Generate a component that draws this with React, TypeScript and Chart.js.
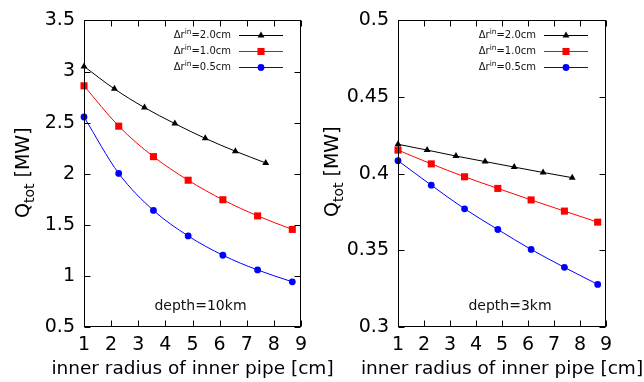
import React, { useEffect, useRef } from "react";
import { Chart, registerables } from "chart.js";
import { drawPoint } from "chart.js/helpers";

Chart.register(...registerables);

// ---------- data ----------
const xCoarse = [1, 2.12, 3.23, 4.35, 5.47, 6.58, 7.7]; // Δr=2.0cm
const xFine = [1, 2.28, 3.56, 4.84, 6.12, 7.4, 8.68]; // Δr=1.0cm, 0.5cm

const deep20 = [3.05, 2.83, 2.647, 2.49, 2.346, 2.22, 2.105];
const deep10 = [2.86, 2.465, 2.167, 1.936, 1.745, 1.587, 1.455];
const deep05 = [2.555, 2.003, 1.641, 1.391, 1.202, 1.058, 0.942];

const shallow20 = [0.4192, 0.4154, 0.4115, 0.4079, 0.4043, 0.4008, 0.3974];
const shallow10 = [0.4154, 0.4064, 0.398, 0.3904, 0.3829, 0.3756, 0.3684];
const shallow05 = [0.4085, 0.3925, 0.3771, 0.3636, 0.3506, 0.3389, 0.3278];

const xTicks = [1, 2, 3, 4, 5, 6, 7, 8, 9];
const yTicksDeep = [0.5, 1, 1.5, 2, 2.5, 3, 3.5];
const yTicksShallow = [0.3, 0.35, 0.4, 0.45, 0.5];

const seriesLabels = ["=2.0cm", "=1.0cm", "=0.5cm"];
const seriesColors = ["#000000", "#ff0000", "#0000ff"];
const seriesStyles = ["triangle", "rect", "circle"];
const seriesRadii = [4, 5, 3.4];

const xTitle = "inner radius of inner pipe [cm]";
const depthDeep = "depth=10km";
const depthShallow = "depth=3km";

const FONT = "DejaVu Sans";

type PanelSpec = {
  ys: number[][];
  yTicks: number[];
  depth: string;
  yAxisWidth: number;
  padRight: number;
  yTitleX: number;
  yTitleStart: number;
};

function drawMixed(
  ctx: CanvasRenderingContext2D,
  parts: { t: string; size: number; dy: number }[],
  x: number,
  y: number
) {
  let cx = x;
  for (const p of parts) {
    ctx.font = `${p.size}px "${FONT}"`;
    ctx.fillText(p.t, cx, y + p.dy);
    cx += ctx.measureText(p.t).width;
  }
}
function measureMixed(ctx: CanvasRenderingContext2D, parts: { t: string; size: number; dy: number }[]) {
  let w = 0;
  for (const p of parts) {
    ctx.font = `${p.size}px "${FONT}"`;
    w += ctx.measureText(p.t).width;
  }
  return w;
}

function makeConfig(spec: PanelSpec): any {
  const xsList = [xCoarse, xFine, xFine];
  const datasets = spec.ys.map((ys, i) => ({
    label: seriesLabels[i],
    data: ys.map((y, k) => ({ x: xsList[i][k], y })),
    borderColor: seriesColors[i],
    backgroundColor: seriesColors[i],
    borderWidth: 1,
    pointStyle: seriesStyles[i],
    pointRadius: seriesRadii[i],
    pointBorderWidth: 0,
    pointBackgroundColor: seriesColors[i],
    pointBorderColor: seriesColors[i],
    cubicInterpolationMode: "monotone",
    clip: false,
    showLine: true,
  }));

  const decor = {
    id: "decor",
    afterDatasetsDraw(chart: any) {
      const ctx: CanvasRenderingContext2D = chart.ctx;
      const { left, right, top, bottom } = chart.chartArea;
      const xs = chart.scales.x;
      const ysc = chart.scales.y;
      ctx.save();
      ctx.strokeStyle = "#000";
      ctx.lineWidth = 1;
      const L = Math.round(left) + 0.5;
      const R = Math.round(right) - 0.5;
      const T = Math.round(top) + 0.5;
      const B = Math.round(bottom) - 0.5;
      ctx.strokeRect(L, T, R - L, B - T);
      const tl = 6;
      ctx.beginPath();
      for (const v of xTicks) {
        const px = Math.round(xs.getPixelForValue(v)) + 0.5;
        ctx.moveTo(px, B);
        ctx.lineTo(px, B - tl);
        ctx.moveTo(px, T);
        ctx.lineTo(px, T + tl);
      }
      for (const v of spec.yTicks) {
        const py = Math.round(ysc.getPixelForValue(v)) + 0.5;
        ctx.moveTo(L, py);
        ctx.lineTo(L + tl, py);
        ctx.moveTo(R, py);
        ctx.lineTo(R - tl, py);
      }
      ctx.stroke();

      // legend
      ctx.fillStyle = "#000";
      ctx.textBaseline = "middle";
      ctx.textAlign = "left";
      for (let i = 0; i < 3; i++) {
        const y = top + 15 + i * 15.7;
        const parts = [
          { t: "Δr", size: 10, dy: 0 },
          { t: "in", size: 7.5, dy: -3.5 },
          { t: seriesLabels[i], size: 10, dy: 0 },
        ];
        const w = measureMixed(ctx, parts);
        ctx.fillStyle = "#111";
        drawMixed(ctx, parts, right - 70 - w, y + 0.5);
        ctx.strokeStyle = seriesColors[i];
        ctx.lineWidth = 1;
        ctx.beginPath();
        ctx.moveTo(right - 62, Math.round(y) + 0.5);
        ctx.lineTo(right - 18, Math.round(y) + 0.5);
        ctx.stroke();
        ctx.fillStyle = seriesColors[i];
        drawPoint(
          ctx,
          { pointStyle: seriesStyles[i] as any, radius: seriesRadii[i], rotation: 0, borderWidth: 0 },
          right - 40,
          Math.round(y) + 0.5
        );
      }

      // depth annotation
      ctx.fillStyle = "#111";
      ctx.textBaseline = "alphabetic";
      ctx.textAlign = "center";
      ctx.font = `14px "${FONT}"`;
      ctx.fillText(spec.depth, (left + right) / 2 + 8, bottom - 17);

      // x title
      ctx.fillStyle = "#000";
      ctx.font = `18.5px "${FONT}"`;
      ctx.fillText(xTitle, (left + right) / 2, 373.5);

      // y title (rotated)
      ctx.save();
      ctx.translate(spec.yTitleX, spec.yTitleStart);
      ctx.rotate(-Math.PI / 2);
      ctx.textAlign = "left";
      ctx.textBaseline = "alphabetic";
      const yparts = [
        { t: "Q", size: 19, dy: 0 },
        { t: "tot", size: 14, dy: 5 },
        { t: " [MW]", size: 19, dy: 0 },
      ];
      drawMixed(ctx, yparts, 0, 0);
      ctx.restore();

      ctx.restore();
    },
  };

  return {
    type: "line",
    data: { datasets },
    options: {
      animation: false,
      responsive: false,
      maintainAspectRatio: false,
      layout: { padding: { left: 0, top: 15, right: spec.padRight, bottom: 0 } },
      plugins: { legend: { display: false }, tooltip: { enabled: false }, title: { display: false } },
      scales: {
        x: {
          type: "linear",
          min: 1,
          max: 9,
          grid: { display: false, drawTicks: false },
          border: { display: false },
          afterBuildTicks: (s: any) => {
            s.ticks = xTicks.map((v) => ({ value: v }));
          },
          afterFit: (s: any) => {
            s.height = 55;
          },
          ticks: {
            color: "#000",
            font: { family: FONT, size: 19 },
            padding: 7,
            maxRotation: 0,
            autoSkip: false,
            callback: (v: any) => String(v),
          },
        },
        y: {
          type: "linear",
          min: spec.yTicks[0],
          max: spec.yTicks[spec.yTicks.length - 1],
          grid: { display: false, drawTicks: false },
          border: { display: false },
          afterBuildTicks: (s: any) => {
            s.ticks = spec.yTicks.map((v) => ({ value: v }));
          },
          afterFit: (s: any) => {
            s.width = spec.yAxisWidth;
          },
          ticks: {
            color: "#000",
            font: { family: FONT, size: 19 },
            padding: 9,
            autoSkip: false,
            callback: (v: any) => String(v),
          },
        },
      },
    },
    plugins: [decor],
  };
}

function Panel(props: { spec: PanelSpec; left: number; width: number }) {
  const ref = useRef<HTMLCanvasElement | null>(null);
  useEffect(() => {
    if (!ref.current) return;
    const chart = new Chart(ref.current, makeConfig(props.spec));
    return () => chart.destroy();
  }, []);
  return (
    <canvas
      ref={ref}
      width={props.width}
      height={382}
      style={{ position: "absolute", left: props.left, top: 0, width: props.width, height: 382 }}
    />
  );
}

const deepSpec: PanelSpec = {
  ys: [deep20, deep10, deep05],
  yTicks: yTicksDeep,
  depth: depthDeep,
  yAxisWidth: 84,
  padRight: 345 - 301,
  yTitleX: 28.5,
  yTitleStart: 218,
};

const shallowSpec: PanelSpec = {
  ys: [shallow20, shallow10, shallow05],
  yTicks: yTicksShallow,
  depth: depthShallow,
  yAxisWidth: 82,
  padRight: 38,
  yTitleX: 337.5 - 316,
  yTitleStart: 217,
};

export default function App() {
  return (
    <div style={{ position: "fixed", left: 0, top: 0, width: 644, height: 382, background: "#fff", overflow: "hidden" }}>
      <Panel spec={deepSpec} left={0} width={345} />
      <Panel spec={shallowSpec} left={316} width={328} />
    </div>
  );
}
